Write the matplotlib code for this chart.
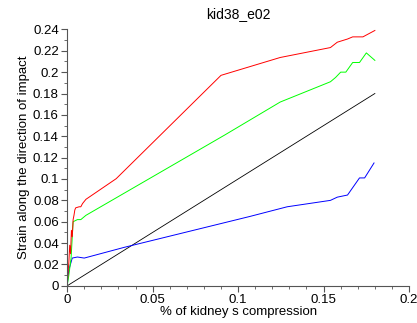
import matplotlib
matplotlib.use("Agg")
import matplotlib.pyplot as plt
from matplotlib.ticker import MultipleLocator

# strain curves
red_x = [0, 0.0005, 0.001, 0.0015, 0.002, 0.0025, 0.003, 0.0035, 0.004, 0.0045, 0.005,
         0.007, 0.008, 0.009, 0.011, 0.0287, 0.090, 0.1246, 0.154, 0.158, 0.164,
         0.167, 0.173, 0.180]
red_y = [0, 0.012, 0.022, 0.038, 0.030, 0.052, 0.046, 0.062, 0.066, 0.071, 0.073,
         0.074, 0.074, 0.077, 0.081, 0.1003, 0.197, 0.2137, 0.223, 0.228, 0.231,
         0.233, 0.233, 0.239]

green_x = [0, 0.001, 0.0023, 0.0035, 0.006, 0.008, 0.011, 0.092, 0.1246, 0.154,
           0.157, 0.160, 0.163, 0.167, 0.171, 0.175, 0.180]
green_y = [0, 0.010, 0.026, 0.060, 0.062, 0.062, 0.066, 0.141, 0.172, 0.191,
           0.195, 0.200, 0.200, 0.209, 0.209, 0.218, 0.211]

blue_x = [0, 0.0005, 0.001, 0.003, 0.006, 0.010, 0.0333, 0.107, 0.1287, 0.154,
          0.158, 0.164, 0.171, 0.174, 0.1795]
blue_y = [0, 0.008, 0.015, 0.026, 0.027, 0.026, 0.036, 0.065, 0.074, 0.080,
          0.083, 0.085, 0.101, 0.101, 0.115]

ref_x = [0, 0.18]
ref_y = [0, 0.18]

x_ticks = [0, 0.05, 0.1, 0.15, 0.2]
x_labels = ["0", "0.05", "0.1", "0.15", "0.2"]
y_ticks = [0, 0.02, 0.04, 0.06, 0.08, 0.1, 0.12, 0.14, 0.16, 0.18, 0.2, 0.22, 0.24]
y_labels = ["0", "0.02", "0.04", "0.06", "0.08", "0.1", "0.12", "0.14",
            "0.16", "0.18", "0.2", "0.22", "0.24"]

plt.rcParams['font.family'] = ['Liberation Sans', 'DejaVu Sans']

fig = plt.figure(figsize=(4.17, 3.23), dpi=100)
ax = fig.add_axes([0.161, 0.115, 0.82, 0.794])

ax.plot(ref_x, ref_y, color="black", lw=0.6)
ax.plot(blue_x, blue_y, color="#0000ff", lw=0.7)
ax.plot(green_x, green_y, color="#00ff00", lw=0.7)
ax.plot(red_x, red_y, color="#ff0000", lw=0.7)

ax.set_xlim(0, 0.2)
ax.set_ylim(0, 0.24)
ax.set_xticks(x_ticks)
ax.set_xticklabels(x_labels)
ax.set_yticks(y_ticks)
ax.set_yticklabels(y_labels)
ax.xaxis.set_minor_locator(MultipleLocator(0.01))
ax.yaxis.set_minor_locator(MultipleLocator(0.01))

for s in ["top", "right"]:
    ax.spines[s].set_visible(False)
for s in ["left", "bottom"]:
    ax.spines[s].set_color("#555555")
    ax.spines[s].set_linewidth(0.8)
ax.tick_params(which="major", length=4, width=0.8, color="#555555", labelsize=9.5, pad=2)
ax.tick_params(which="minor", length=2, width=0.6, color="#555555")

ax.set_title("kid38_e02", fontsize=10, pad=8)
ax.set_xlabel("% of kidney s compression", fontsize=9.5, labelpad=0)
ax.set_ylabel("Strain along the direction of impact", fontsize=9.5, labelpad=2)

fig.savefig("out.png", dpi=100)
